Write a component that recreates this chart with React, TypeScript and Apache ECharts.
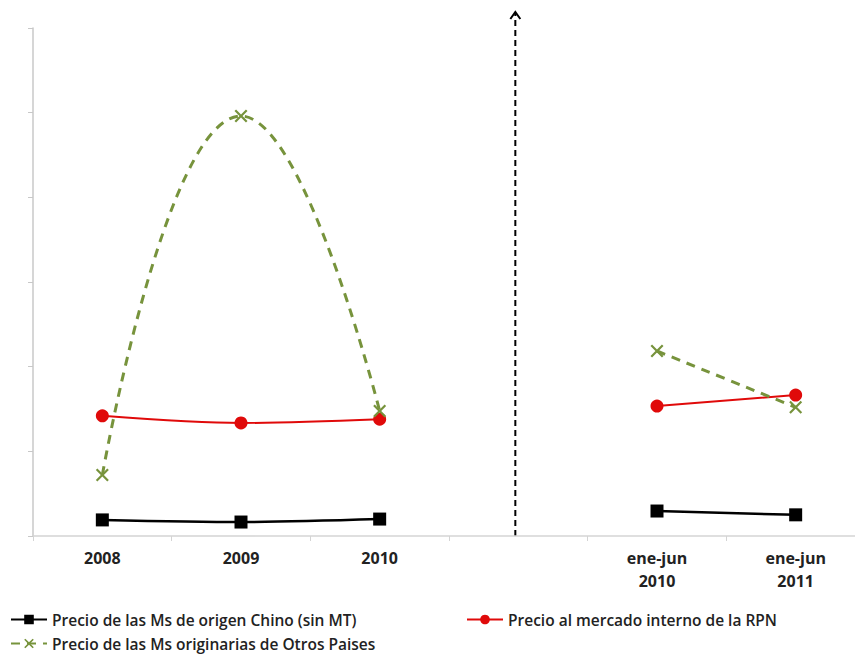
import React, { useEffect, useRef } from "react";
import * as echarts from "echarts";

const categories = ["2008", "2009", "2010", "", "ene-jun\n2010", "ene-jun\n2011"];
const seriesNames = [
  "Precio de las Ms de origen Chino (sin MT)",
  "Precio al mercado interno de la RPN",
  "Precio de las Ms originarias de Otros Paises",
];
const chino = [0.19, 0.165, 0.2, null, 0.295, 0.25];
const rpn = [1.42, 1.335, 1.38, null, 1.535, 1.665];
const otros = [0.72, 4.96, 1.476, null, 2.185, 1.52];
const dividerCategoryIndex = 3;

const X_SYMBOL =
  "path://M0,1.2 L1.2,0 L5,3.8 L8.8,0 L10,1.2 L6.2,5 L10,8.8 L8.8,10 L5,6.2 L1.2,10 L0,8.8 L3.8,5 Z";

export default function App() {
  const ref = useRef<HTMLDivElement>(null);
  useEffect(() => {
    if (!ref.current) return;
    const chart = echarts.init(ref.current, null, { renderer: "svg" });
    const font = "'Open Sans', 'Liberation Sans', sans-serif";
    chart.setOption({
      animation: false,
      backgroundColor: "#ffffff",
      grid: {
        left: 33,
        top: 28,
        bottom: 118,
        width: 832,
        containLabel: false,
        outerBoundsMode: "none",
      },
      xAxis: {
        type: "category",
        data: categories,
        boundaryGap: true,
        axisLine: { lineStyle: { color: "#d4d4d4", width: 1.5 } },
        axisTick: { show: true, length: 5, lineStyle: { color: "#d4d4d4" } },
        axisLabel: {
          color: "#222",
          fontFamily: font,
          fontWeight: "bold",
          fontSize: 16,
          lineHeight: 23,
          margin: 10,
        },
      },
      yAxis: {
        type: "value",
        min: 0,
        max: 6,
        interval: 1,
        axisLine: { show: true, lineStyle: { color: "#c8c8c8", width: 1.5 } },
        axisTick: { show: true, length: 5, lineStyle: { color: "#c8c8c8" } },
        axisLabel: { show: false },
        splitLine: { show: false },
      },
      legend: [
        { data: [seriesNames[0]], left: 10, top: 611 },
        { data: [seriesNames[1]], left: 466, top: 611 },
        { data: [seriesNames[2]], left: 10, top: 635 },
      ].map((l) => ({
        ...l,
        padding: 0,
        itemWidth: 36,
        itemHeight: 12,
        itemGap: 3,
        textStyle: {
          color: "#222",
          fontFamily: font,
          fontSize: 15.5,
          fontWeight: 600,
          lineHeight: 17,
        },
      })),
      series: [
        {
          name: seriesNames[0],
          type: "line",
          data: chino,
          smooth: 0.3,
          connectNulls: false,
          symbol: "rect",
          symbolSize: 13,
          itemStyle: { color: "#000000" },
          lineStyle: { color: "#000000", width: 2.5 },
        },
        {
          name: seriesNames[1],
          type: "line",
          data: rpn,
          smooth: 0.3,
          connectNulls: false,
          symbol: "circle",
          symbolSize: 13,
          itemStyle: { color: "#e00a0a" },
          lineStyle: { color: "#e00a0a", width: 2 },
        },
        {
          name: seriesNames[2],
          type: "line",
          data: otros,
          smooth: 0.5,
          connectNulls: false,
          symbol: X_SYMBOL,
          symbolSize: 13,
          itemStyle: { color: "#77933c" },
          lineStyle: { color: "#77933c", width: 3, type: [9, 7] },
        },
      ],
    });
    const x = chart.convertToPixel({ xAxisIndex: 0 }, dividerCategoryIndex) as number;
    const yBottom = chart.convertToPixel({ yAxisIndex: 0 }, 0) as number;
    const xd = x - 3;
    chart.setOption({
      graphic: [
        {
          type: "line",
          shape: { x1: xd, y1: yBottom, x2: xd, y2: 13 },
          style: { stroke: "#000", lineWidth: 2, lineDash: [6, 4] },
        },
        {
          type: "polyline",
          shape: { points: [[xd - 5, 19], [xd, 12], [xd + 5, 19]] },
          style: { stroke: "#000", lineWidth: 2, fill: null },
        },
      ],
    });
    return () => chart.dispose();
  }, []);
  return (
    <div
      ref={ref}
      style={{ position: "fixed", left: 0, top: 0, width: 855, height: 654 }}
    />
  );
}
